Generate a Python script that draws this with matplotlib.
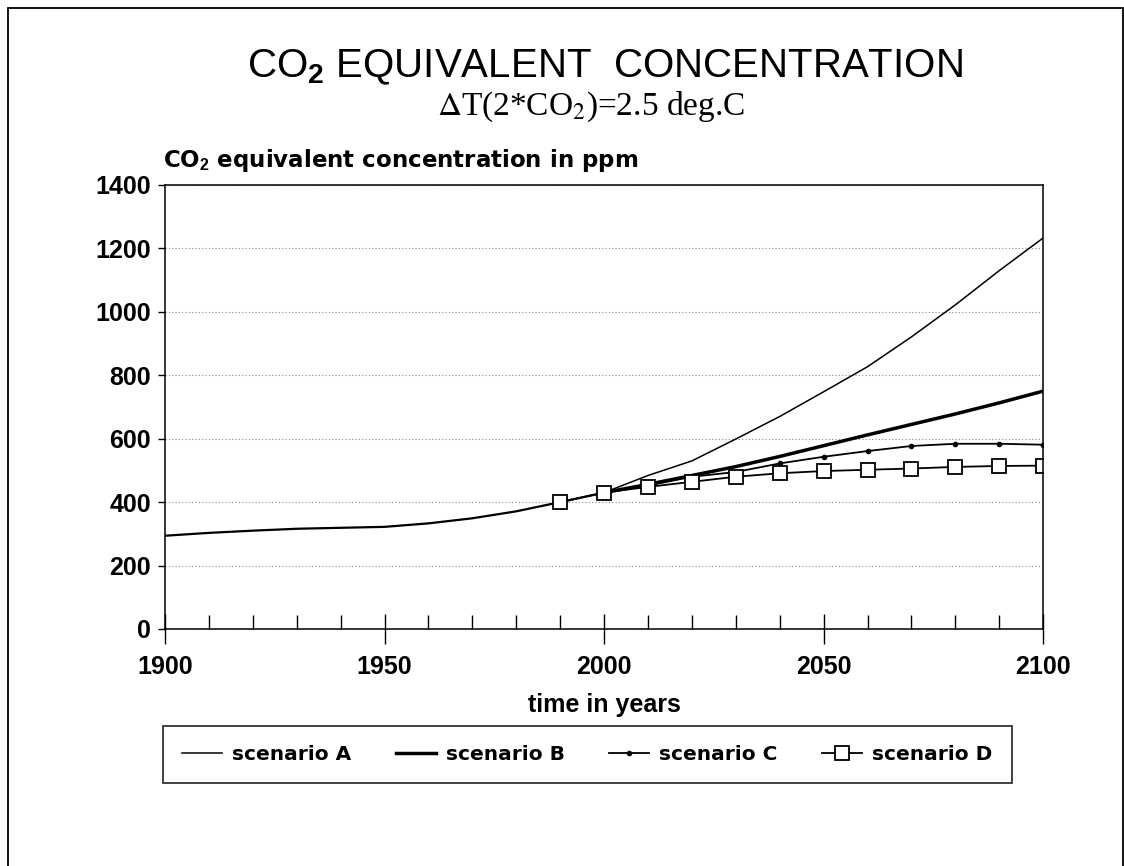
import matplotlib
matplotlib.use("Agg")
import matplotlib.pyplot as plt
from matplotlib.patches import Rectangle
from matplotlib.ticker import MultipleLocator

plt.rcParams['font.family'] = ['Liberation Sans', 'DejaVu Sans']
plt.rcParams['mathtext.fontset'] = 'custom'
plt.rcParams['mathtext.rm'] = 'Liberation Sans'
plt.rcParams['mathtext.bf'] = 'Liberation Sans:bold'

# ---- data ----
hist_years = [1900, 1910, 1920, 1930, 1940, 1950, 1960, 1970, 1980, 1990, 2000]
hist_vals = [294, 303, 310, 316, 319, 322, 333, 349, 371, 400, 430]

fut_years = [2000, 2010, 2020, 2030, 2040, 2050, 2060, 2070, 2080, 2090, 2100]
scen_A = [430, 484, 530, 599, 670, 748, 827, 921, 1022, 1130, 1233]
scen_B = [430, 456, 484, 512, 544, 578, 612, 645, 678, 713, 750]
scen_C = [430, 452, 480, 495, 522, 543, 561, 577, 584, 584, 581]

d_years = [1990, 2000, 2010, 2020, 2030, 2040, 2050, 2060, 2070, 2080, 2090, 2100]
scen_D = [400, 430, 448, 464, 480, 491, 498, 502, 506, 511, 514, 515]

labels = ['scenario A', 'scenario B', 'scenario C', 'scenario D']
x_ticks = [1900, 1950, 2000, 2050, 2100]
y_ticks = [0, 200, 400, 600, 800, 1000, 1200, 1400]

fig = plt.figure(figsize=(11.24, 8.66), dpi=100)
fig.patches.append(Rectangle((0.0075, -0.01), 0.9915, 1.0007, transform=fig.transFigure,
                             fill=False, edgecolor='black', linewidth=1.3))

ax = fig.add_axes([0.1468, 0.2737, 0.7813, 0.5127])

ax.plot(hist_years, hist_vals, color='black', linewidth=1.6)
ax.plot(fut_years, scen_A, color='black', linewidth=1.1, label=labels[0])
ax.plot(fut_years, scen_B, color='black', linewidth=2.5, label=labels[1])
ax.plot(fut_years, scen_C, color='black', linewidth=1.3, marker='o', markersize=3,
        label=labels[2])
ax.plot(d_years, scen_D, color='black', linewidth=1.3, marker='s', markersize=10,
        markerfacecolor='white', markeredgecolor='black', markeredgewidth=1.3,
        label=labels[3])

ax.set_xlim(1900, 2100)
ax.set_ylim(0, 1400)
ax.set_xticks(x_ticks)
ax.set_yticks(y_ticks)
ax.xaxis.set_minor_locator(MultipleLocator(10))
ax.tick_params(axis='x', which='major', direction='inout', length=22, width=1.0,
               labelsize=18, pad=8)
ax.tick_params(axis='x', which='minor', direction='in', length=10, width=1.0)
ax.tick_params(axis='y', which='major', direction='out', length=5, width=1.0,
               labelsize=18, pad=5)
for lab in ax.get_xticklabels() + ax.get_yticklabels():
    lab.set_fontweight('bold')
ax.grid(axis='y', which='major', linestyle=(0, (1, 2)), color='#888888', linewidth=0.8)
for s in ax.spines.values():
    s.set_linewidth(1.1)

ax.set_xlabel('time in years', fontsize=18, fontweight='bold', labelpad=10)

fig.text(0.145, 0.807, r'CO$_\mathbf{2}$ equivalent concentration in ppm',
         fontsize=16.5, fontweight='bold', family='DejaVu Sans',
         ha='left', va='baseline')

fig.text(0.538, 0.911, r'CO$_\mathbf{2}$ EQUIVALENT  CONCENTRATION', fontsize=29,
         ha='center', va='baseline')
fig.text(0.526, 0.867, r'$\Delta$T(2*CO$_2$)=2.5 deg.C', fontsize=24,
         family='Liberation Serif', ha='center', va='baseline', math_fontfamily='stix')

leg = fig.legend(loc='center', bbox_to_anchor=(0.145, 0.0924, 0.755, 0.0727),
                 mode='expand', ncol=4, frameon=True, fancybox=False,
                 edgecolor='black', prop={'size': 14.5, 'weight': 'bold', 'family': 'DejaVu Sans'},
                 handlelength=2.0, handletextpad=0.5, borderpad=0.95, borderaxespad=0)
leg.get_frame().set_linewidth(1.3)

fig.savefig('out.png', dpi=100)
